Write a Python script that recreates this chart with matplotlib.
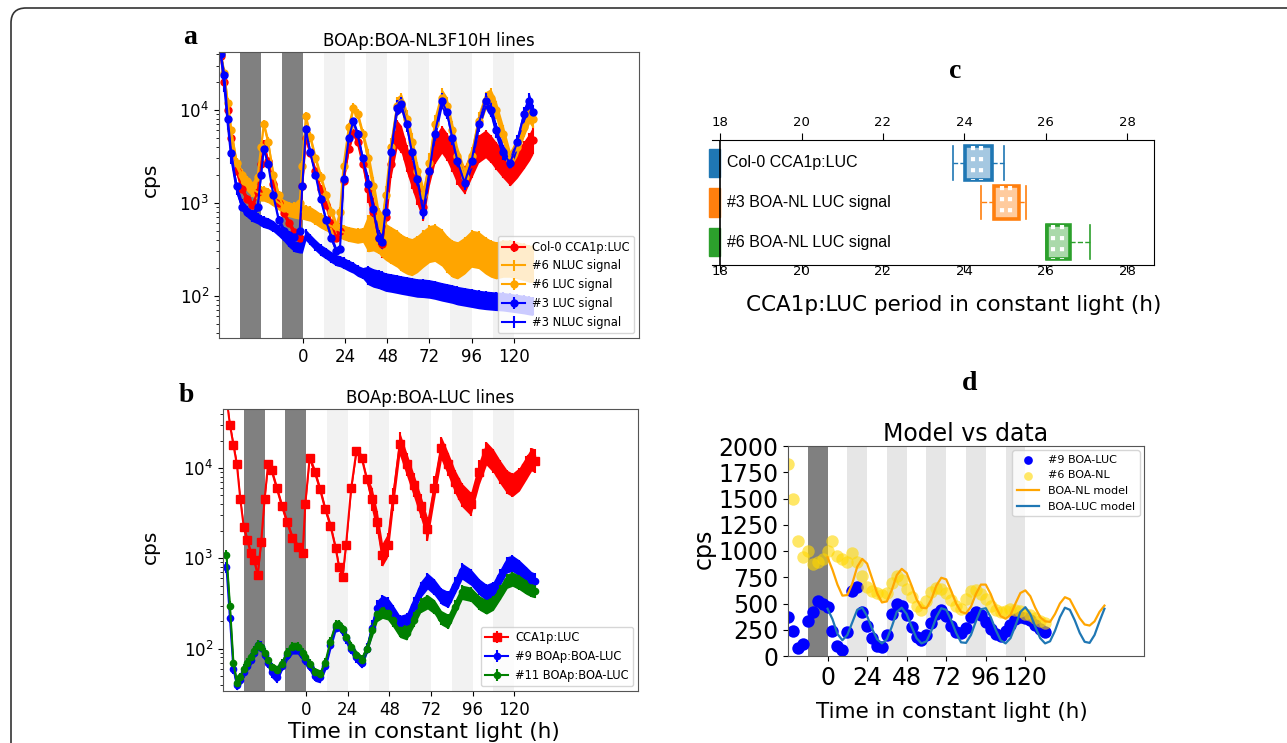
import numpy as np
import matplotlib
matplotlib.use("Agg")
import matplotlib.pyplot as plt
from matplotlib.patches import FancyBboxPatch, Rectangle

# ---- data -------------------------------------------------------------
# light regime (h): dark intervals and subjective-night intervals in LL
dark_ab = [(-36, -24), (-12, 0)]
dark_d = [(-12, 0)]
subj_night = [(12, 24), (36, 48), (60, 72), (84, 96), (108, 120)]
xt_time = [0, 24, 48, 72, 96, 120]

# panel a : BOAp:BOA-NL3F10H lines
ta = [-47, -45, -43, -41, -38, -35, -32, -29, -26, -24,
      -22.5, -20, -17, -14, -11, -8, -5, -2, -0.5, 1.5,
      4, 7, 10, 13, 16, 19, 21, 23, 26, 28.5,
      31, 34, 37, 40, 43, 45, 47, 50, 53.5, 56,
      59, 62, 65, 68.5, 72, 75, 79, 82, 85, 88,
      92, 96, 100, 104, 107, 110, 114, 118, 122, 126,
      129, 131]
col0_a = [38000, 20000, 10000, 5000, 2200, 1400, 1100, 950, 1300, 2600,
          4300, 2800, 1600, 1000, 770, 600, 480, 420, 1500, 5000,
          3400, 2200, 1400, 950, 600, 420, 500, 1700, 3800, 5700,
          4500, 2600, 1400, 800, 420, 360, 700, 2600, 5500, 4800,
          3000, 2000, 1350, 900, 2200, 3700, 4800, 4000, 3000, 2200,
          1750, 2600, 3800, 4300, 3800, 3200, 2600, 2150, 2600, 3300,
          4000, 4700]
nluc6_a = [40000, 20000, 9000, 4500, 2500, 1900, 1600, 1400, 1300, 1250,
           1250, 1200, 1100, 1000, 900, 850, 820, 800, 800, 780,
           760, 700, 640, 600, 560, 520, 500, 480, 460, 450,
           440, 450, 470, 480, 450, 410, 380, 350, 320, 290,
           270, 260, 280, 320, 360, 370, 330, 280, 250, 240,
           270, 320, 310, 270, 250, 240, 250, 250, 240, 230,
           220, 220]
luc6_a = [40000, 25000, 12000, 6000, 2700, 2000, 1700, 1500, 1900, 4000,
          7000, 4500, 2000, 1200, 880, 850, 900, 1000, 2500, 8500,
          5100, 3000, 1900, 1200, 800, 560, 800, 2500, 6500, 10500,
          9000, 5500, 3000, 1500, 700, 620, 1200, 4000, 11000, 12000,
          8000, 4500, 2200, 1200, 2700, 7000, 13500, 11000, 6000, 3200,
          1900, 3200, 7500, 12500, 13500, 10000, 5500, 2900, 4000, 6500,
          9000, 8000]
luc3_a = [40000, 24000, 8000, 3400, 1500, 900, 800, 750, 900, 2000,
          3800, 2600, 1200, 650, 500, 450, 430, 500, 1500, 6200,
          3500, 2000, 1100, 650, 420, 300, 320, 1800, 5000, 7500,
          5500, 3000, 1600, 850, 420, 380, 800, 3500, 10500, 11500,
          7000, 3500, 1800, 800, 2200, 5500, 12500, 9500, 5000, 2800,
          1650, 2800, 7000, 12500, 10000, 6000, 3500, 2650, 4500, 9000,
          12500, 9500]
nluc3_a = [40000, 18000, 7000, 3000, 1400, 950, 800, 720, 680, 640,
           620, 600, 560, 500, 440, 380, 340, 330, 330, 450,
           400, 350, 310, 285, 260, 240, 235, 225, 210, 200,
           185, 175, 165, 155, 150, 145, 140, 137, 133, 130,
           127, 124, 121, 120, 118, 115, 110, 107, 104, 100,
           97, 94, 91, 89, 88, 87, 86, 84, 82, 80,
           78, 77]

# panel b : BOAp:BOA-LUC lines
tb = [-46, -44, -42, -40, -38, -36, -34, -32, -30, -28,
      -26, -24, -22, -20, -17, -14, -11, -8, -5, -2,
      -0.5, 2, 5, 8, 11, 14, 17, 19, 21, 23,
      26, 29, 32, 35, 38, 41, 44, 47, 50, 54,
      58, 62, 66, 70, 74, 78, 82, 86, 90, 95,
      100, 104, 108, 112, 116, 119, 123, 127, 130, 132]
cca1_b = [60000, 30000, 18000, 11000, 4500, 2200, 1600, 1150, 950, 650,
          1500, 4500, 11000, 9500, 6000, 3800, 2500, 1700, 1350, 1150,
          4000, 13000, 9000, 5800, 3500, 2300, 1300, 800, 620, 1400,
          6000, 15500, 13000, 7500, 4500, 2500, 1100, 1400, 4500, 18500,
          11000, 6500, 3800, 2100, 6000, 16500, 11000, 7000, 5000, 4000,
          9000, 14500, 12000, 9000, 7000, 6500, 7500, 10000, 12500, 12000]
boa9_b = [800, 220, 60, 40, 45, 55, 65, 75, 90, 110,
          105, 85, 70, 55, 48, 65, 85, 100, 100, 85,
          75, 65, 50, 48, 65, 110, 175, 180, 160, 130,
          100, 80, 70, 100, 170, 280, 320, 300, 250, 190,
          200, 300, 450, 560, 480, 380, 350, 500, 720, 620,
          480, 420, 450, 620, 850, 880, 780, 660, 580, 560]
boa11_b = [1100, 300, 70, 42, 48, 60, 70, 80, 95, 110,
           105, 90, 75, 62, 58, 68, 90, 105, 105, 90,
           80, 68, 55, 52, 70, 120, 185, 185, 165, 135,
           105, 85, 75, 100, 160, 240, 260, 250, 210, 160,
           150, 210, 300, 330, 290, 220, 200, 290, 420, 400,
           320, 290, 320, 420, 560, 590, 540, 480, 450, 440]

# panel c : CCA1p:LUC period (h)
c_names = ["Col-0 CCA1p:LUC", "#3 BOA-NL LUC signal", "#6 BOA-NL LUC signal"]
c_whislo = [23.72, 24.41, 26.01]
c_q1 = [24.02, 24.74, 26.04]
c_med = [24.22, 24.93, 26.19]
c_mean = [24.40, 25.12, 26.39]
c_q3 = [24.68, 25.35, 26.60]
c_whishi = [24.97, 25.52, 27.09]
xt_c = [18, 20, 22, 24, 26, 28]

# panel d : model vs data
td = list(range(-24, 133, 3))
luc9_d = [370, 240, 80, 110, 330, 420, 520, 500, 470, 240,
          95, 60, 230, 620, 660, 420, 290, 170, 100, 85,
          200, 400, 500, 480, 390, 280, 180, 150, 200, 310,
          400, 440, 380, 290, 230, 220, 270, 370, 420, 390,
          320, 260, 210, 195, 240, 300, 350, 370, 360, 340,
          300, 260, 230]
nl6_d = [1830, 1500, 1100, 940, 1000, 880, 900, 920, 1000, 1100,
         950, 920, 900, 980, 900, 760, 660, 620, 600, 580,
         600, 700, 760, 720, 640, 560, 480, 440, 520, 610,
         650, 640, 600, 530, 480, 450, 540, 620, 630, 590,
         540, 480, 440, 420, 430, 450, 440, 430, 400, 390,
         360, 330, 310]
tm = list(range(0, 169, 3))
nl_model = [940, 820, 680, 575, 580, 690, 850, 925, 880, 740,
            600, 510, 520, 630, 770, 830, 790, 670, 540, 460,
            455, 540, 670, 745, 730, 620, 500, 420, 405, 470,
            590, 680, 680, 590, 470, 380, 355, 390, 500, 600,
            625, 570, 460, 370, 330, 325, 400, 500, 560, 540,
            450, 360, 300, 290, 330, 420, 480]
luc_model = [450, 350, 210, 150, 200, 320, 440, 460, 380, 260,
             160, 120, 160, 280, 420, 460, 400, 280, 170, 120,
             140, 240, 370, 455, 440, 340, 220, 130, 125, 200,
             330, 445, 455, 370, 250, 150, 120, 170, 290, 420,
             465, 400, 280, 170, 120, 140, 240, 370, 460, 440,
             340, 220, 135, 125, 200, 330, 450]

# noise half-width in decades (before / after 36 h)
SPREAD = {"col0_a": (0.04, 0.15), "nluc6_a": (0.08, 0.2), "luc6_a": (0.05, 0.1),
          "luc3_a": (0.04, 0.08), "nluc3_a": (0.06, 0.1),
          "cca1_b": (0.04, 0.13), "boa9_b": (0.06, 0.09), "boa11_b": (0.05, 0.08)}

# ---- figure -----------------------------------------------------------
W, H = 1287, 743
fig = plt.figure(figsize=(W / 100, H / 100), dpi=100)


def px_box(l, t, r, b):
    return [l / W, 1 - b / H, (r - l) / W, (b - t) / H]


def shade(ax, dark, light, light_c):
    for s, e in dark:
        ax.axvspan(s, e, color="#808080", lw=0, zorder=0)
    for s, e in light:
        ax.axvspan(s, e, color=light_c, lw=0, zorder=0)


def trace(ax, t, y, spread, color, label, marker="o", ms=5):
    t = np.asarray(t, float)
    y = np.asarray(y, float)
    s = np.where(t < 36, spread[0], spread[1])
    lo, hi = y * 10 ** -s, y * 10 ** s
    ax.fill_between(t, lo, hi, color=color, lw=0, zorder=2)
    ax.errorbar(t, y, yerr=[y - lo, hi - y], fmt="-", marker=marker, ms=ms,
                color=color, ecolor=color, elinewidth=1.5, lw=1.5, label=label, zorder=2)


def style_log(ax):
    ax.set_yscale("log")
    ax.set_xlim(-48, 191.5)
    ax.set_xticks(xt_time)
    ax.tick_params(labelsize=12)
    for sp in ax.spines.values():
        sp.set_color("#555555")


def letter(x, y, s):
    fig.text(x / W, 1 - y / H, s, family="Liberation Serif", weight="bold",
             fontsize=20, ha="center", va="center")


# panel a
ax_a = fig.add_axes(px_box(219, 52, 639, 338))
shade(ax_a, dark_ab, subj_night, "#f2f2f2")
trace(ax_a, ta, col0_a, SPREAD["col0_a"], "red", "Col-0 CCA1p:LUC")
trace(ax_a, ta, nluc6_a, SPREAD["nluc6_a"], "orange", "#6 NLUC signal", marker=None)
trace(ax_a, ta, luc6_a, SPREAD["luc6_a"], "orange", "#6 LUC signal")
trace(ax_a, ta, luc3_a, SPREAD["luc3_a"], "blue", "#3 LUC signal")
trace(ax_a, ta, nluc3_a, SPREAD["nluc3_a"], "blue", "#3 NLUC signal", marker=None)
style_log(ax_a)
ax_a.set_ylim(35, 42000)
ax_a.set_title("BOAp:BOA-NL3F10H lines", fontsize=12, pad=4)
ax_a.legend(loc="lower right", fontsize=8.3, borderaxespad=0.4, handletextpad=0.6)
fig.text(150 / W, 1 - 180 / H, "cps", rotation=90, fontsize=14.5, ha="center", va="center")
letter(190, 38, "a")

# panel b
ax_b = fig.add_axes(px_box(223, 409, 638, 691))
shade(ax_b, dark_ab, subj_night, "#f2f2f2")
trace(ax_b, tb, cca1_b, SPREAD["cca1_b"], "red", "CCA1p:LUC", marker="s", ms=5.5)
trace(ax_b, tb, boa9_b, SPREAD["boa9_b"], "blue", "#9 BOAp:BOA-LUC", ms=4.5)
trace(ax_b, tb, boa11_b, SPREAD["boa11_b"], "green", "#11 BOAp:BOA-LUC", ms=4.5)
style_log(ax_b)
ax_b.set_ylim(34, 45000)
ax_b.set_title("BOAp:BOA-LUC lines", fontsize=12, pad=4)
ax_b.legend(loc="lower right", fontsize=8.3, borderaxespad=0.4, handletextpad=0.6)
fig.text(150 / W, 1 - 547 / H, "cps", rotation=90, fontsize=14.5, ha="center", va="center")
fig.text(424 / W, 1 - 732 / H, "Time in constant light (h)", fontsize=15.5,
         ha="center", va="center")
letter(186, 395, "b")

# panel c
c_colors = ["#1f77b4", "#ff7f0e", "#2ca02c"]
ax_c = fig.add_axes(px_box(712, 140, 1154, 265))
stats = []
for i in range(len(c_names)):
    stats.append(dict(whislo=c_whislo[i], q1=c_q1[i], med=c_med[i], mean=c_mean[i],
                      q3=c_q3[i], whishi=c_whishi[i], fliers=[]))
pos = [1, 2, 3]
bp = ax_c.bxp(stats, positions=pos, orientation="horizontal", widths=0.84,
              capwidths=0.84, patch_artist=True, showmeans=True, meanline=True,
              showfliers=False)
for i, c in enumerate(c_colors):
    bp["boxes"][i].set(facecolor=matplotlib.colors.to_rgba(c, 0.4), edgecolor=c, lw=2.6)
    for w in bp["whiskers"][2 * i:2 * i + 2]:
        w.set(color=c, ls="--", lw=1)
    for cp in bp["caps"][2 * i:2 * i + 2]:
        cp.set(color=c, lw=1.2)
    bp["medians"][i].set(color="white", ls=":", lw=3)
    bp["means"][i].set(color="white", ls=":", lw=3)
    ax_c.add_patch(Rectangle((17.73, pos[i] - 0.36), 0.27, 0.72, color=c, clip_on=False))
    ax_c.text(18.17, pos[i], c_names[i], va="center", ha="left", fontsize=11.5,
              family="Liberation Sans")
ax_c.set_xlim(17.8, 28.66)
ax_c.set_ylim(3.58, 0.42)
ax_c.set_yticks([])
ax_c.spines["left"].set_visible(False)
ax_c.axvline(18, color="black", lw=1.2)
ax_c.set_xticks(xt_c)
ax_c.tick_params(axis="x", top=True, labeltop=True, labelbottom=False,
                 direction="out", length=5, labelsize=9.5, pad=3)
for v in xt_c:
    ax_c.text(v, 0, str(v), transform=ax_c.get_xaxis_transform(), ha="center",
              va="top", fontsize=9.5)
fig.text(954 / W, 1 - 305 / H, "CCA1p:LUC period in constant light (h)",
         fontsize=15.5, ha="center", va="center")
letter(955, 72, "c")

# panel d
ax_d = fig.add_axes(px_box(788, 446, 1144, 656))
shade(ax_d, dark_d, subj_night, "#e6e6e6")
ax_d.scatter(td, luc9_d, s=80, color="blue", lw=0, label="#9 BOA-LUC", zorder=2)
ax_d.scatter(td, nl6_d, s=80, color="gold", alpha=0.6, lw=0, label="#6 BOA-NL", zorder=2)
ax_d.plot(tm, nl_model, color="orange", lw=1.6, label="BOA-NL model", zorder=3)
ax_d.plot(tm, luc_model, color="#1f77b4", lw=1.6, label="BOA-LUC model", zorder=3)
ax_d.set_xlim(-24, 192)
ax_d.set_ylim(0, 2000)
ax_d.set_yticks(range(0, 2001, 250))
ax_d.set_xticks(xt_time)
ax_d.tick_params(labelsize=17)
for sp in ax_d.spines.values():
    sp.set_color("#555555")
ax_d.set_title("Model vs data", fontsize=17, pad=3)
ax_d.legend(loc="upper right", fontsize=8, borderaxespad=0.4, markerscale=0.7)
fig.text(704 / W, 1 - 549 / H, "cps", rotation=90, fontsize=17, ha="center", va="center")
fig.text(952 / W, 1 - 712 / H, "Time in constant light (h)", fontsize=15.5,
         ha="center", va="center")
letter(970, 383, "d")

# outer rounded frame
fig.patches.append(FancyBboxPatch((0.11, -0.5), 13.5, 7.85,
                                  boxstyle="round,pad=0,rounding_size=0.15",
                                  transform=fig.dpi_scale_trans, fill=False,
                                  edgecolor="#333333", lw=1.2))

fig.savefig("out.png", dpi=100)
